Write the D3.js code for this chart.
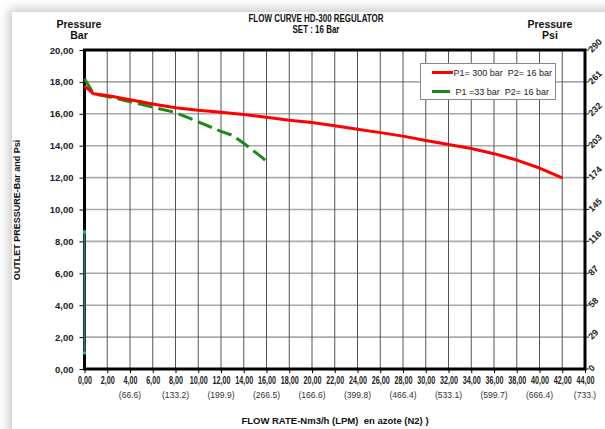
<!DOCTYPE html>
<html><head><meta charset="utf-8">
<script src="https://cdn.jsdelivr.net/npm/d3@7"></script>
<style>
html,body{margin:0;padding:0;background:#fff;}
#card{position:absolute;left:12px;top:12px;width:620px;height:440px;background:#fff;box-shadow:-3px -3px 10px rgba(0,0,0,0.22);}
svg{position:absolute;left:0;top:0;font-family:"Liberation Sans",Arial,sans-serif;}
</style></head>
<body><div id="card"></div>
<script>
// ---- data ----
const xTicks = d3.range(0, 46, 2);
const yTicks = d3.range(0, 22, 2);
const psiTicks = [0, 29, 58, 87, 116, 145, 174, 203, 232, 261, 290];
const lpmTicks = [4, 8, 12, 16, 20, 24, 28, 32, 36, 40, 44];
const lpmLabels = ["(66.6)", "(133.2)", "(199.9)", "(266.5)", "(166.6)", "(399.8)", "(466.4)", "(533.1)", "(599.7)", "(666.4)", "(733.)"];
const redFlow = [0, 0.8, 2, 4, 6, 8, 10, 12, 14, 16, 18, 20, 22, 24, 26, 28, 30, 32, 34, 36, 38, 40, 42];
const redPress = [17.75, 17.25, 17.15, 16.88, 16.62, 16.38, 16.22, 16.1, 15.96, 15.78, 15.6, 15.45, 15.25, 15.03, 14.82, 14.6, 14.32, 14.08, 13.82, 13.5, 13.1, 12.6, 11.98];
const greenFlow = [0, 0.8, 2, 4, 6, 8, 10, 12, 13, 14, 15.6, 16.2];
const greenPress = [18.2, 17.25, 17.08, 16.76, 16.42, 16.08, 15.5, 14.9, 14.65, 14.15, 13.27, 12.9];
const tealFlow = [0, 0];
const tealPress = [1, 8.6];
const seriesNames = ["P1= 300 bar  P2= 16 bar", "P1 =33 bar  P2= 16 bar"];

const W = 605, H = 429;
const svg = d3.select("body").append("svg").attr("width", W).attr("height", H);
const x = d3.scaleLinear().domain([0, 44]).range([84.5, 585]);
const y = d3.scaleLinear().domain([0, 20]).range([369, 50]);
const yPsi = d3.scaleLinear().domain([0, 290]).range([369, 50]);
const comma = v => d3.format(".2f")(v).replace(".", ",");

// grid
svg.append("g").selectAll("line").data(yTicks.slice(1, -1)).join("line")
  .attr("x1", x(0)).attr("x2", x(44)).attr("y1", d => y(d)).attr("y2", d => y(d))
  .attr("stroke", "#aaa").attr("stroke-width", 1.6);
svg.append("g").selectAll("line").data(xTicks.slice(1, -1)).join("line")
  .attr("x1", d => x(d)).attr("x2", d => x(d)).attr("y1", y(0)).attr("y2", y(20))
  .attr("stroke", "#555").attr("stroke-width", 1);

// left axis
const ax = d3.axisLeft(y).tickValues(yTicks).tickFormat(comma).tickSize(5).tickPadding(6);
const gl = svg.append("g").attr("transform", `translate(${x(0)},0)`).call(ax);
gl.select(".domain").remove();
gl.selectAll("text").attr("font-size", 9.5).attr("font-weight", "bold").attr("fill", "#222")
  .attr("font-family", "Liberation Sans, Arial, sans-serif");

// right psi axis
const gr = svg.append("g");
gr.selectAll("text").data(psiTicks).join("text")
  .attr("transform", d => `translate(${x(44) + 7},${yPsi(d) + 3}) rotate(-45)`)
  .attr("font-size", 9).attr("font-weight", "bold").attr("fill", "#222").text(d => d);
gr.selectAll("line").data(psiTicks).join("line")
  .attr("x1", x(44)).attr("x2", x(44) + 4).attr("y1", d => yPsi(d)).attr("y2", d => yPsi(d))
  .attr("stroke", "#222");

// bottom axis
const bx = d3.axisBottom(x).tickValues(xTicks).tickFormat(comma).tickSize(4).tickPadding(4);
const gb = svg.append("g").attr("transform", `translate(0,${y(0)})`).call(bx);
gb.select(".domain").remove();
gb.selectAll("text").attr("font-size", 10).attr("fill", "#222").attr("font-weight", "bold")
  .attr("font-family", "Liberation Sans, Arial, sans-serif").attr("transform", "scale(0.72,1)");
svg.append("g").selectAll("text").data(lpmTicks).join("text")
  .attr("transform", d => `translate(${x(d)},398) scale(0.9,1)`).attr("text-anchor", "middle")
  .attr("font-size", 9.5).attr("fill", "#333").text((d, i) => lpmLabels[i]);

// frame
svg.append("rect").attr("x", x(0)).attr("y", y(20)).attr("width", x(44) - x(0)).attr("height", y(0) - y(20))
  .attr("fill", "none").attr("stroke", "#000").attr("stroke-width", 3);

// series
const line = d3.line().x(d => x(d[0])).y(d => y(d[1]));
svg.append("path").datum(tealFlow.map((v, i) => [v, tealPress[i]])).attr("d", line)
  .attr("fill", "none").attr("stroke", "#2e7d74").attr("stroke-width", 2);
svg.append("g").selectAll("circle").data(tealFlow.map((v, i) => [v, tealPress[i]])).join("circle")
  .attr("cx", d => x(d[0])).attr("cy", d => y(d[1])).attr("r", 1.8).attr("fill", "#3aa89a");
svg.append("path").datum(greenFlow.map((v, i) => [v, greenPress[i]])).attr("d", line)
  .attr("fill", "none").attr("stroke", "#1b8a1b").attr("stroke-width", 3)
  .attr("stroke-dasharray", "15,6").attr("stroke-linejoin", "round");
svg.append("path").datum(redFlow.map((v, i) => [v, redPress[i]])).attr("d", line)
  .attr("fill", "none").attr("stroke", "#ff0000").attr("stroke-width", 3).attr("stroke-linejoin", "round");

// legend
const lg = svg.append("g");
lg.append("rect").attr("x", 420.5).attr("y", 63.5).attr("width", 135).attr("height", 36)
  .attr("fill", "#fff").attr("stroke", "#888").attr("stroke-width", 1);
lg.append("line").attr("x1", 432).attr("x2", 453).attr("y1", 72.5).attr("y2", 72.5).attr("stroke", "#ff0000").attr("stroke-width", 3);
lg.append("line").attr("x1", 432).attr("x2", 450).attr("y1", 91.5).attr("y2", 91.5).attr("stroke", "#1b8a1b").attr("stroke-width", 3);
lg.append("text").attr("x", 453.5).attr("y", 75.5).attr("font-size", 9).attr("fill", "#222")
  .style("white-space", "pre").text(seriesNames[0]);
lg.append("text").attr("x", 455.5).attr("y", 94.5).attr("font-size", 9).attr("fill", "#222")
  .style("white-space", "pre").text(seriesNames[1]);

// titles
const bold = (t, xx, yy, size, anchor) => svg.append("text").attr("x", xx).attr("y", yy)
  .attr("text-anchor", anchor || "middle").attr("font-size", size).attr("font-weight", "bold").attr("fill", "#111").text(t);
bold("FLOW CURVE HD-300 REGULATOR", 0, 0, 10.5).attr("transform", "translate(316,22) scale(0.76,1)");
bold("SET : 16 Bar", 0, 0, 10.5).attr("transform", "translate(316,33) scale(0.76,1)");
bold("Pressure", 79, 28, 10.5);
bold("Bar", 79, 39, 10.5);
bold("Pressure", 550, 28, 10.5);
bold("Psi", 550, 39, 10.5);
bold("FLOW RATE-Nm3/h (LPM)  en azote (N2) )", 335, 424, 9.5).style("white-space", "pre");
svg.append("text").attr("transform", "translate(20,210) rotate(-90)").attr("text-anchor", "middle")
  .attr("font-size", 9).attr("font-weight", "bold").attr("fill", "#111").text("OUTLET PRESSURE-Bar and Psi");
</script>
</body></html>
